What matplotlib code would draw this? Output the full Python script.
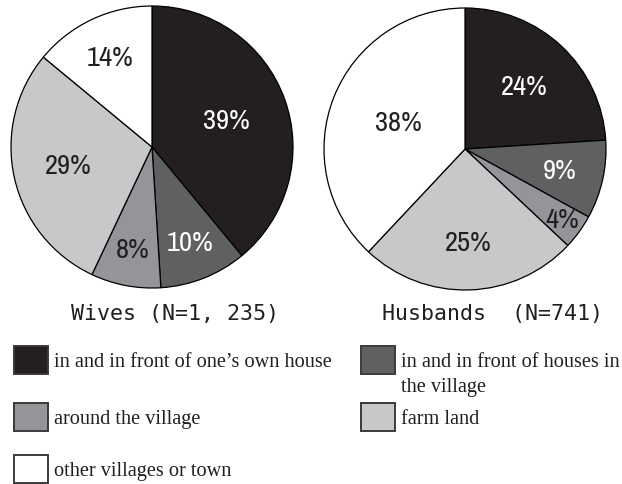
import numpy as np
import matplotlib
matplotlib.use('Agg')
import matplotlib.pyplot as plt
from matplotlib.patches import Rectangle
from matplotlib import font_manager as fm

#data
categories = ["in and in front of one\u2019s own house",
              "in and in front of houses in\nthe village",
              "around the village",
              "farm land",
              "other villages or town"]
wives = [39, 10, 8, 29, 14]
husbands = [24, 9, 4, 25, 38]
titles = ["Wives (N=1, 235)", "Husbands  (N=741)"]

colors = ['#231f20', '#5f6062', '#939598', '#c7c8ca', '#ffffff']
txtcol = ['white', 'white', '#231f20', '#231f20', '#231f20']

#radial spot of each percent label (fraction of radius)
wives_lab = [0.56, 0.73, 0.74, 0.61, 0.70]
husb_lab = [0.61, 0.69, 0.85, 0.66, 0.51]

#look for a narrow regular sans for the percent labels
pct_font = fm.FontProperties(family='Liberation Sans')
pct_size = 16.5
cands = []
for f in fm.fontManager.ttflist:
    narrow = 'Narrow' in f.name or 'Condensed' in f.name or f.stretch == 'condensed'
    regular = f.weight in (400, 'normal', 'regular', 'book') and f.style == 'normal'
    if narrow and regular and 'Mono' not in f.name and 'Serif' not in f.name:
        cands.append((0 if 'Narrow' in f.name else 1, f.fname))
if cands:
    cands.sort()
    pct_font = fm.FontProperties(fname=cands[0][1])
    pct_size = 20.5

W, H = 622, 485
fig = plt.figure(figsize=(W/100, H/100), dpi=100)

#overlay axes in pixel units for legend and titles
ax0 = fig.add_axes([0, 0, 1, 1])
ax0.set_xlim(0, W)
ax0.set_ylim(H, 0)
ax0.axis('off')

def pie_axes(cx, cy, r):
    pad = 1.02
    return fig.add_axes([(cx - r*pad)/W, 1 - (cy + r*pad)/H, 2*r*pad/W, 2*r*pad/H])

def draw_pie(ax, vals, labd):
    wedges, _ = ax.pie(vals, colors=colors, startangle=90, counterclock=False,
                       radius=1, wedgeprops={'edgecolor': 'black', 'linewidth': 0.9})
    for w, d, v, c in zip(wedges, labd, vals, txtcol):
        ang = np.deg2rad((w.theta1 + w.theta2) / 2)
        ax.text(d*np.cos(ang), d*np.sin(ang), f'{v}%', ha='center', va='center',
                color=c, fontproperties=pct_font, fontsize=pct_size)
    ax.set_xlim(-1.02, 1.02)
    ax.set_ylim(-1.02, 1.02)
    ax.set_aspect('equal')
    ax.axis('off')

axl = pie_axes(152, 148, 141)
draw_pie(axl, wives, wives_lab)
axr = pie_axes(465, 150, 141)
draw_pie(axr, husbands, husb_lab)

#titles under the pies
ax0.text(71, 314, titles[0], ha='left', va='center', fontsize=15.6,
         family='DejaVu Sans Mono', color='#231f20')
ax0.text(382, 314, titles[1], ha='left', va='center', fontsize=15.6,
         family='DejaVu Sans Mono', color='#231f20')

#legend, two columns
spots = [(14, 361), (361, 361), (14, 418), (361, 418), (14, 470)]
for (x, y), lab, col in zip(spots, categories, colors):
    ax0.add_patch(Rectangle((x, y - 14), 34, 28, facecolor=col,
                            edgecolor='#3a3a3a', linewidth=1.4))
    for k, line in enumerate(lab.split('\n')):
        ax0.text(x + 40, y + 6 + 25*k, line, ha='left', va='baseline',
                 fontsize=14.6, family='Liberation Serif', color='#231f20')

fig.savefig('out.png', dpi=100)
